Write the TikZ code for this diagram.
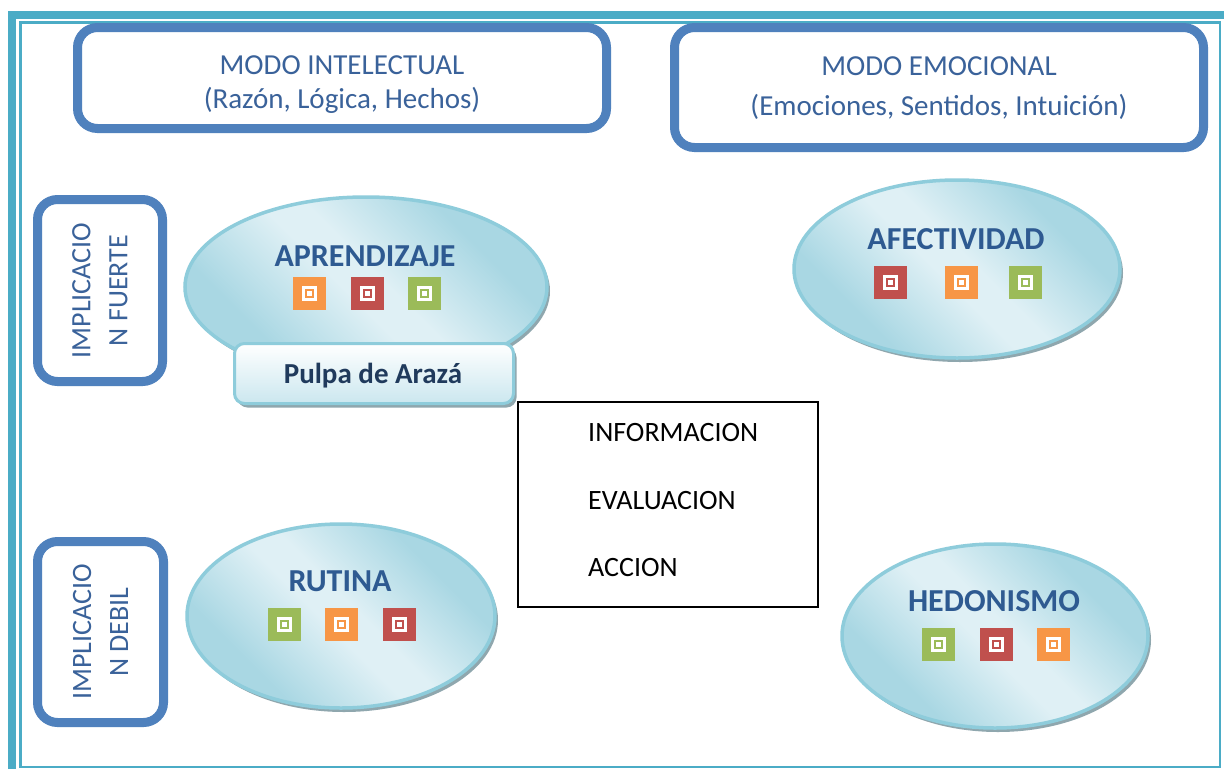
\documentclass[tikz,border=0pt]{standalone}
\usepackage{fontspec}
\setmainfont{Carlito}
\usetikzlibrary{shapes.geometric,shadows}
\definecolor{frameC}{HTML}{4BACC6}
\definecolor{boxC}{HTML}{4F81BD}
\definecolor{headT}{HTML}{3A629A}
\definecolor{ellT}{HTML}{2E5A91}
\definecolor{pulpaT}{HTML}{203A5C}
\definecolor{ellD}{HTML}{A9D7E3}
\definecolor{ellL}{HTML}{DFF0F5}
\definecolor{ellB}{HTML}{8ECCDB}
\definecolor{shadowC}{HTML}{8FA7AE}
\definecolor{pulpaB}{HTML}{CBE7EF}
\definecolor{sqO}{HTML}{F79646}
\definecolor{sqR}{HTML}{C0504D}
\definecolor{sqG}{HTML}{9BBB59}
\pgfdeclarehorizontalshading{ellgrad}{100bp}{color(0bp)=(ellD); color(30bp)=(ellD); color(47bp)=(ellL); color(53bp)=(ellL); color(70bp)=(ellD); color(100bp)=(ellD)}
\tikzset{
  modebox/.style={draw=boxC, line width=9pt, rounded corners=20pt, fill=white, inner sep=0pt, outer sep=0pt},
  ellnode/.style={ellipse, draw=ellB, line width=3.5pt, shading=ellgrad, shading angle=45, inner sep=0pt, outer sep=0pt,
    drop shadow={shadow xshift=3pt, shadow yshift=-4pt, fill=shadowC, opacity=1}},
  elltitle/.style={anchor=base, text=ellT, font=\fontsize{32}{38}\selectfont\bfseries, inner sep=0pt},
  headtext/.style={text=headT, align=center, inner sep=0pt},
  infotext/.style={anchor=base west, font=\fontsize{28}{34}\selectfont, inner sep=0pt},
  sq/.pic={
    \fill[#1] (-16.5,-16.5) rectangle (16.5,16.5);
    \draw[white, line width=3pt] (-6,-6) rectangle (6,6);
    \fill[white] (-2.5,-2.5) rectangle (2.5,2.5);
  }
}
\begin{document}
\begin{tikzpicture}[x=1pt,y=-1pt]
\useasboundingbox (0,0) rectangle (1224,769);
\fill[white] (0,0) rectangle (1224,769);
% frame
\draw[frameC, line width=8pt, line join=miter] (12,769) -- (12,15) -- (1224,15);
\draw[frameC, line width=2.2pt] (20.5,22.5) rectangle (1220,767);

% header boxes
\node[modebox, minimum width=529, minimum height=101] (intel) at (342,78) {};
\node[headtext, anchor=base, font=\fontsize{29}{35}\selectfont] (intelA) at (342,74) {MODO INTELECTUAL};
\node[headtext, anchor=base, font=\fontsize{29}{35}\selectfont] (intelB) at (342,108) {(Razón, Lógica, Hechos)};

\node[modebox, minimum width=529, minimum height=120] (emo) at (939,87.5) {};
\node[headtext, anchor=base, font=\fontsize{29}{35}\selectfont] (emoA) at (939,75) {MODO EMOCIONAL};
\node[headtext, anchor=base, font=\fontsize{29}{35}\selectfont] (emoB) at (939,115) {(Emociones, Sentidos, Intuición)};

% side boxes
\node[modebox, rotate=90, minimum width=182, minimum height=125, text=headT, align=center,
  font=\fontsize{28}{37}\selectfont] (fuerte) at (100,290.5) {IMPLICACIO\\N FUERTE};
\node[modebox, rotate=90, minimum width=181, minimum height=126, text=headT, align=center,
  font=\fontsize{28}{37}\selectfont] (debil) at (100.5,632) {IMPLICACIO\\N DEBIL};

% ellipses
\node[ellnode, minimum width=362, minimum height=180] (apr) at (366,287) {};
\node[elltitle] (aprT) at (365,266) {APRENDIZAJE};
\pic at (309,293) {sq=sqO};
\pic at (367,293) {sq=sqR};
\pic at (424,293) {sq=sqG};

\node[draw=ellB, line width=3pt, rounded corners=10pt, top color=white, bottom color=pulpaB,
  minimum width=279, minimum height=60, inner sep=0pt, outer sep=0pt,
  drop shadow={shadow xshift=3pt, shadow yshift=-4pt, fill=shadowC, opacity=1}] (pulpa) at (374,373.5) {};
\node[anchor=base, text=pulpaT, font=\fontsize{29}{35}\selectfont\bfseries, inner sep=0pt] (pulpaT) at (373,383) {Pulpa de Arazá};

\node[ellnode, minimum width=326, minimum height=178] (afe) at (957,269) {};
\node[elltitle] (afeT) at (956,249) {AFECTIVIDAD};
\pic at (890,282) {sq=sqR};
\pic at (961,282) {sq=sqO};
\pic at (1025,282) {sq=sqG};

\node[ellnode, minimum width=308, minimum height=184] (rut) at (341,616) {};
\node[elltitle] (rutT) at (340,591) {RUTINA};
\pic at (284,624) {sq=sqG};
\pic at (341,624) {sq=sqO};
\pic at (399,624) {sq=sqR};

\node[ellnode, minimum width=306, minimum height=184] (hed) at (995,636) {};
\node[elltitle] (hedT) at (994,611) {HEDONISMO};
\pic at (938,644) {sq=sqG};
\pic at (996,644) {sq=sqR};
\pic at (1053,644) {sq=sqO};

% center box
\node[draw=black, line width=2.2pt, fill=white, minimum width=300, minimum height=205, inner sep=0pt, outer sep=0pt] (ciclo) at (668,504.5) {};
\node[infotext] (info) at (588,441) {INFORMACION};
\node[infotext] (eval) at (588,509) {EVALUACION};
\node[infotext] (acc) at (588,576) {ACCION};
\end{tikzpicture}
\end{document}
